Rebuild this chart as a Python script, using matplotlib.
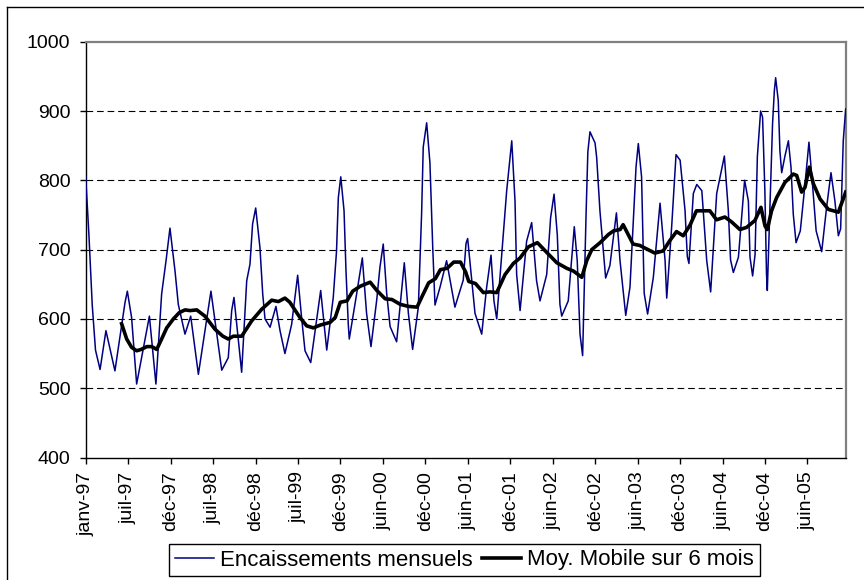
import matplotlib
matplotlib.use("Agg")
import matplotlib.pyplot as plt
from matplotlib.lines import Line2D

plt.rcParams['font.family'] = ['Liberation Sans', 'DejaVu Sans']

# ---- data (x = weeks since early January 1997) ----
enc_week = [0, 2, 4, 6, 8.8, 12.4, 17.9, 24.1, 25.5, 28.1, 31.2, 39, 43, 46.5, 49.2, 51.6,
            54.7, 56.7, 60.8, 64.3, 69, 76.7, 83.3, 87.3, 89.4, 90.8, 95.5, 98.6, 100.6,
            102.2, 104.1, 106.7, 108.4, 109.8, 112.9, 116.5, 119, 122, 126.1, 129.8, 132.2,
            134.3, 137.8, 143.9, 147.6, 151.6, 153.6, 154.7, 156.2, 158.2, 159.4, 160.8,
            161.4, 165.5, 169.4, 172, 174.7, 178.2, 180.2, 182.2, 184.3, 186.4, 190.4, 195.1,
            197.6, 200.2, 203.7, 205.7, 206.7, 208.8, 210.8, 212.5, 213.9, 217, 221, 226.1,
            231.2, 232.9, 233.9, 236.4, 238.4, 242.5, 245.5, 248.2, 250, 251.7, 255.7, 257.8,
            260.9, 262.9, 263.9, 266, 270, 273.1, 276.1, 278.2, 282.3, 284.7, 286.8, 288.8,
            290.4, 291.5, 295.5, 299.2, 301, 302.7, 304.3, 306.4, 307.5, 308.8, 311.9, 312.9,
            314.9, 318.4, 321, 325, 327.2, 330.7, 333.3, 337, 338.4, 340.4, 342, 344.1, 347.6,
            351.7, 354.8, 355.8, 358.8, 361.5, 364, 367, 368.4, 369.4, 372.1, 374.2, 377.3,
            380.3, 382.7, 386.4, 391.1, 393.5, 394.9, 396.6, 399.7, 403.5, 405.8, 406.8, 408.4,
            409.9, 411.3, 413.3, 414.5, 415.9, 416.9, 417.4, 419, 420.6, 421.7, 422.5, 424.1,
            425.1, 426.2, 428.2, 430.3, 431.9, 433.3, 435, 437.6, 440.5, 442.9, 445.2, 447.3,
            450.7, 453.7, 456.4, 458.8, 460.9, 462.3, 463.9, 465.4]
enc_value = [805, 720, 620, 555, 527, 583, 525, 624, 640, 602, 506, 604, 506, 636, 684, 731,
             669, 621, 578, 604, 520, 640, 526, 544, 612, 631, 523, 655, 679,
             737, 760, 703, 636, 600, 588, 618, 583, 550, 592, 663, 602,
             554, 537, 641, 555, 631, 698, 775, 805, 756, 669, 592,
             571, 630, 688, 608, 560, 627, 675, 708, 637, 589, 567, 681,
             608, 556, 617, 752, 848, 883, 825, 704, 620, 646, 684, 617,
             656, 709, 716, 656, 608, 578, 645, 692, 626, 600, 722, 785,
             857, 770, 664, 612, 712, 739, 655, 626, 664, 746, 780, 721,
             621, 604, 626, 733, 684, 578, 547, 750, 841, 870, 854, 833,
             756, 659, 677, 753, 684, 605, 646, 819, 853, 805, 637, 607, 660,
             767, 684, 630, 732, 837, 829, 757, 690, 680, 781, 794, 785,
             684, 639, 781, 835, 757, 685, 667, 689, 800, 770, 689, 662,
             693, 834, 900, 891, 785, 665, 641, 761, 881, 929, 948, 915,
             843, 811, 835, 857, 819, 751, 710, 727, 795, 855, 790, 727,
             697, 761, 811, 770, 720, 730, 857, 903]

ma_week = [22, 25.1, 28.1, 31.2, 34, 37.4, 40.5, 43.5, 46.5, 49.6, 53.7, 57.3, 60.8, 63.9, 68,
           73, 79.2, 84, 87.3, 90.4, 95.5, 101.6, 107.8, 113.9, 118, 122, 125, 131.2, 135.3,
           139.4, 143.5, 149.7, 152.8, 155.9, 160, 163.5, 168, 174.2, 178.3, 183.4, 187.5,
           192.6, 197.7, 202.9, 205.9, 210, 214.1, 217.2, 221.3, 225.4, 229.5, 232.6, 234.6,
           238.7, 243.5, 247.6, 251.7, 256.8, 261.9, 266, 271.1, 276.6, 282.3, 288.5, 294.6,
           298.7, 303.8, 306.8, 309.9, 315, 320.2, 323.2, 327.3, 329.1, 335.2, 339.3, 348.5,
           353.6, 357.7, 361.8, 365.9, 370, 374, 382.2, 386.3, 391.4, 395.5, 400.6, 404.7,
           409.8, 413.5, 416, 417.4, 420, 423.1, 428.2, 433.3, 435.4, 438.4, 440.5, 443.1,
           445.6, 449.7, 454.8, 460.9, 465.4]
ma_value = [593, 571, 559, 554, 556, 560, 560, 556, 571, 587, 600, 609, 613, 612, 613,
            604, 585, 575, 571, 575, 575, 597, 614, 627, 625, 630, 624, 602, 590,
            587, 591, 595, 602, 624, 626, 640, 647, 653, 641, 629, 628,
            621, 618, 617, 632, 652, 658, 671, 673, 682, 682, 668, 654,
            651, 638, 639, 638, 664, 680, 688, 704, 710, 696, 681, 673,
            669, 660, 684, 700, 710, 722, 727, 729, 736, 708, 706, 695,
            698, 713, 726, 720, 735, 756, 756, 743, 747, 740, 729, 732,
            742, 761, 734, 729, 756, 775, 797, 809, 807, 783, 790, 819,
            795, 773, 758, 754, 783]

tick_week = [0, 26, 52, 78, 104, 130, 156, 182, 208, 234, 260, 286, 312, 338, 364, 390, 416, 442]
tick_label = ['janv-97', 'juil-97', 'déc-97', 'juil-98', 'déc-98', 'juil-99', 'déc-99',
              'juin-00', 'déc-00', 'juin-01', 'déc-01', 'juin-02', 'déc-02', 'juin-03',
              'déc-03', 'juin-04', 'déc-04', 'juin-05']
y_ticks = [400, 500, 600, 700, 800, 900, 1000]

series_labels = ['Encaissements mensuels', 'Moy. Mobile sur 6 mois']

# ---- figure ----
W, H = 864, 580
fig = plt.figure(figsize=(W / 100, H / 100), dpi=100)
L, R, T, B = 85.7, 845.7, 41.7, 457.5
ax = fig.add_axes([L / W, 1 - B / H, (R - L) / W, (B - T) / H])

for yv in y_ticks[1:-1]:
    ax.axhline(yv, color='black', lw=0.8, linestyle=(0, (6, 3.5)), zorder=1)

l1, = ax.plot(enc_week, enc_value, color='#000080', lw=1.1, zorder=3)
l2, = ax.plot(ma_week, ma_value, color='black', lw=2.6, zorder=4)

ax.set_xlim(0, 465.4)
ax.set_ylim(400, 1000)
ax.set_yticks(y_ticks)
ax.set_yticklabels([str(v) for v in y_ticks], fontsize=14)
ax.set_xticks(tick_week)
ax.set_xticklabels(tick_label, rotation=90, fontsize=14)
ax.tick_params(axis='both', direction='out', length=4, width=1, color='black')
ax.tick_params(axis='y', pad=7)
ax.tick_params(axis='x', pad=6)

for s in ['top', 'right']:
    ax.spines[s].set_color('#808080')
    ax.spines[s].set_linewidth(1.6)
for s in ['left', 'bottom']:
    ax.spines[s].set_color('black')
    ax.spines[s].set_linewidth(1.0)

# outer chart-area border (left and top visible)
fig.add_artist(Line2D([7 / W, 7 / W], [0, 1 - 7 / H], color='black', lw=1.0))
fig.add_artist(Line2D([7 / W, 1], [1 - 7 / H, 1 - 7 / H], color='black', lw=1.0))

leg = fig.legend([l1, l2], series_labels, loc='center',
                 bbox_to_anchor=(464.5 / W, 1 - 560 / H), ncol=2, fontsize=16,
                 frameon=True, fancybox=False, edgecolor='black', framealpha=1,
                 handlelength=1.75, handletextpad=0.3, columnspacing=0.4,
                 borderpad=0.25, borderaxespad=0)
leg.get_frame().set_linewidth(1.0)

fig.savefig('out.png', dpi=100)
